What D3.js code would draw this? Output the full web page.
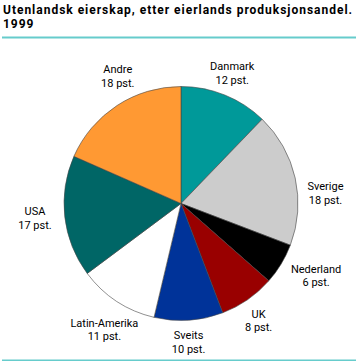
<!DOCTYPE html>
<html>
<head>
<meta charset="utf-8">
<script src="https://cdn.jsdelivr.net/npm/d3@7"></script>
<style>
  html, body { margin: 0; padding: 0; background: #fff; }
  svg { display: block; }
</style>
</head>
<body>
<svg id="chart" width="357" height="361"></svg>
<script>
// ---- data ----
const countries = ["Danmark", "Sverige", "Nederland", "UK", "Sveits", "Latin-Amerika", "USA", "Andre"];
const shares    = [12.2, 18.6, 5.7, 7.7, 9.5, 11.1, 16.8, 18.4];
const labelPct  = ["12 pst.", "18 pst.", "6 pst.", "8 pst.", "10 pst.", "11 pst.", "17 pst.", "18 pst."];
const colors    = ["#009999", "#cccccc", "#000000", "#990000", "#003399", "#ffffff", "#006666", "#ff9933"];
const titleLines = ["Utenlandsk eierskap, etter eierlands produksjonsandel.", "1999"];

// ---- layout ----
const W = 357, H = 361;
const cx = 181, cy = 203.5, R = 117;
const labelR = 145;
const nudge = [[-3, 4], [3, 21], [11, -3], [-5, -2], [-2, -6], [3, 5], [-2, -2], [16, -6]];
const lineGap = 13.5;
const FONT = "Roboto, 'Liberation Sans', sans-serif";

const svg = d3.select("#chart");

// title
const title = svg.append("g");
titleLines.forEach((t, i) => {
  title.append("text")
    .attr("x", 3)
    .attr("y", 13.5 + i * 14.5)
    .attr("font-family", FONT)
    .attr("font-weight", "bold")
    .attr("font-size", 13)
    .attr("fill", "#000")
    .text(t);
});
// fit the long title line to the reference width, without letting the two lines collide
const firstNode = title.select("text").node();
let len = firstNode.getComputedTextLength();
const fs = Math.min(13 * 350 / len, 14.2 / 1.18);
title.selectAll("text").attr("font-size", fs);
len = firstNode.getComputedTextLength();
const ls = Math.max(0, (350 - len) / titleLines[0].length);
title.selectAll("text").attr("letter-spacing", ls);

// rules
svg.append("rect").attr("x", 2).attr("y", 36.5).attr("width", W - 3).attr("height", 2).attr("fill", "#66cccc");
svg.append("rect").attr("x", 2).attr("y", 359.5).attr("width", W - 3).attr("height", 1.5).attr("fill", "#66cccc");

// pie
const pie = d3.pie().sort(null).value(d => d)(shares);
const arc = d3.arc().innerRadius(0).outerRadius(R);
const labelArc = d3.arc().innerRadius(labelR).outerRadius(labelR);

const g = svg.append("g").attr("transform", `translate(${cx},${cy})`);
g.selectAll("path.slice")
  .data(pie)
  .join("path")
  .attr("class", "slice")
  .attr("d", arc)
  .attr("fill", (d, i) => colors[i])
  .attr("stroke", "#444")
  .attr("stroke-width", 0.6)
  .attr("stroke-linejoin", "round");

// labels
const lbl = g.selectAll("g.lbl")
  .data(pie)
  .join("g")
  .attr("class", "lbl")
  .attr("transform", (d, i) => {
    const c = labelArc.centroid(d);
    return `translate(${c[0] + nudge[i][0]},${c[1] + nudge[i][1]})`;
  });
lbl.each(function(d, i) {
  const sel = d3.select(this);
  [countries[i], labelPct[i]].forEach((t, k) => {
    sel.append("text")
      .attr("x", 0)
      .attr("y", (k - 0.5) * lineGap + 4)
      .attr("text-anchor", "middle")
      .attr("font-family", FONT)
      .attr("font-size", 11)
      .attr("fill", "#000")
      .text(t);
  });
});
</script>
</body>
</html>
